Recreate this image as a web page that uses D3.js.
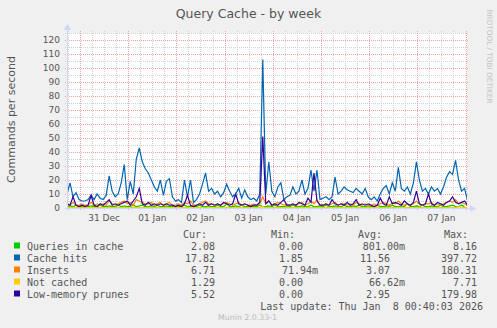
<!DOCTYPE html>
<html>
<head>
<meta charset="utf-8">
<script src="https://cdn.jsdelivr.net/npm/d3@7"></script>
<style>
  html, body { margin: 0; padding: 0; background: #F0F0F0; }
  svg { display: block; }
  text { font-family: "DejaVu Sans", sans-serif; fill: #555; }
  .mono { font-family: "DejaVu Sans Mono", monospace; white-space: pre; }
</style>
</head>
<body>
<svg id="chart"></svg>
<script>
// --- data (one sample every 1.5 h) ---
var startTime = Date.UTC(2025, 11, 30, 17, 32);
var stepHours = 1.5;

var queriesInCache = [1,1.5,1,2,1,1,0.5,1,1.5,1,1,2,1,1,1.5,1,1,2,1,1.5,1,1,2,1,1.5,2,1,1,1.5,1,2,1,1,1.5,1,1,0.5,1,1,2,1,1,1.5,1,2,1,1,1.5,1,1,2,1,1,3,1,1,1.5,1,2,1,1,1.5,1,1,2,1,1,1.5,1,2,1,1,1,1.5,1,2,1,1,1.5,1,1,2,1,1,1.5,1,2,1,1,1.5,1,1,2,1,1,1.5,1,2,1,1,1.5,1,1,2,1,1,1.5,1,2,1,1,1.5,1,3,1,1,1.5,1,2,1,1,1.5,1,1,2,1,1,1.5,2,1,1,2,1];
var cacheHits = [10,18,8,11,6,5,5,6,9,6,10,7,6,9,23,12,8,10,18,31,6,19,10,35,43,33,28,25,20,15,12,20,9,19,21,8,5,6,4,20,8,20,4,6,10,17,25,12,14,10,12,8,11,17,12,8,10,14,7,13,8,6,7,5,10,106,10,33,12,8,15,18,6,8,9,15,10,12,20,10,14,27,12,27,6,7,8,6,8,22,10,12,15,13,12,11,14,12,10,14,8,6,8,5,10,14,16,10,18,12,29,14,12,15,10,18,33,20,12,14,10,15,12,14,10,15,22,26,24,34,20,12,14,5];
var inserts = [3,2,4,2,2,3,2,2,4,2,3,2,3,2,5,3,2,3,4,5,3,4,2,6,5,4,3,3,4,2,3,4,2,3,4,2,2,3,2,4,3,5,2,2,3,4,5,3,3,2,3,2,3,4,3,2,3,4,2,3,2,2,3,2,3,8,3,5,2,3,4,3,2,3,2,3,2,3,4,2,3,5,3,6,2,2,3,2,3,4,2,3,3,2,3,2,4,3,2,3,2,2,3,2,3,4,3,2,4,3,5,3,2,3,2,3,5,3,2,3,3,4,2,3,2,3,4,5,4,6,3,4,3,2];
var notCached = [0.5,0.3,0.5,0.2,0.3,0.5,0.2,0.3,0.5,0.2,0.3,0.5,0.3,0.2,0.5,0.3,0.2,0.5,0.3,0.5,0.2,0.3,0.5,0.3,0.5,0.2,0.3,0.5,0.2,0.3,0.5,0.3,0.2,0.5,0.3,0.2,0.3,0.5,0.2,0.3,0.5,0.3,0.2,0.3,0.5,0.2,0.3,0.5,0.3,0.2,0.5,0.3,0.2,0.5,0.3,0.2,0.3,0.5,0.2,0.3,0.5,0.3,0.2,0.3,0.5,1,0.3,0.5,0.2,0.3,0.5,0.3,0.2,0.5,0.3,0.2,0.3,0.5,0.2,0.3,0.5,0.3,0.2,0.5,0.3,0.2,0.3,0.5,0.2,0.3,0.5,0.3,0.2,0.3,0.5,0.2,0.3,0.5,0.3,0.2,0.5,0.3,0.2,0.5,0.3,0.2,0.3,0.5,0.2,0.3,0.5,0.3,0.2,0.3,0.5,0.2,0.3,0.5,0.3,0.2,0.5,0.3,0.2,0.5,0.3,0.2,0.3,0.5,0.2,0.3,1,0.3,0.5,0.3];
var lowMemoryPrunes = [3,2,8,2,1,2,1,2,9,2,1,3,2,4,6,2,3,2,3,4,5,2,5,8,14,3,2,4,2,3,2,3,2,3,2,2,1,2,1,3,9,2,1,2,3,2,4,2,3,2,3,2,4,3,2,3,10,3,2,3,2,1,2,2,4,51,3,5,2,3,2,4,6,2,2,3,2,4,3,2,7,4,25,5,2,2,3,2,6,3,2,3,2,4,2,3,6,2,3,2,3,2,1,2,7,3,2,8,3,4,3,2,5,3,2,4,12,3,2,3,10,3,2,4,3,2,4,5,8,4,3,4,5,2];

var seriesNames = ["Queries in cache", "Cache hits", "Inserts", "Not cached", "Low-memory prunes"];
var seriesColors = ["#00CC00", "#0066B3", "#FF8000", "#FFCC00", "#330099"];
var curValues = ["2.08", "17.82", "6.71", "1.29", "5.52"];
var minValues = ["0.00", "1.85", "71.94m", "0.00", "0.00"];
var avgValues = ["801.00m", "11.56", "3.07", "66.62m", "2.95"];
var maxValues = ["8.16", "397.72", "180.31", "7.71", "179.98"];
var yTickValues = [0, 10, 20, 30, 40, 50, 60, 70, 80, 90, 100, 110, 120];

var width = 497, height = 328;
var plot = { left: 67, right: 467, top: 33, bottom: 208 };

var svg = d3.select("#chart").attr("width", width).attr("height", height);
svg.append("rect").attr("width", width).attr("height", height).attr("fill", "#F0F0F0");

var endTime = startTime + 199.2 * 3600e3;
var x = d3.scaleUtc().domain([startTime, endTime]).range([plot.left, plot.right]);
var y = d3.scaleLinear().domain([0, 125]).range([plot.bottom, plot.top]);

svg.append("rect")
	.attr("x", plot.left).attr("y", plot.top)
	.attr("width", plot.right - plot.left).attr("height", plot.bottom - plot.top)
	.attr("fill", "#fff");

// grid
var grid = svg.append("g").attr("shape-rendering", "crispEdges");
var minorY = d3.range(0, 126, 5);
grid.selectAll(".hgrid").data(minorY).enter().append("line")
	.attr("x1", plot.left - 2).attr("x2", plot.right + 2)
	.attr("y1", function(d) { return Math.round(y(d)) + 0.5; })
	.attr("y2", function(d) { return Math.round(y(d)) + 0.5; })
	.attr("stroke", function(d) { return d % 10 == 0 ? "#f4a3a3" : "#d2d2d2"; })
	.attr("stroke-dasharray", "1,1");

var minorX = d3.utcHour.every(6).range(new Date(startTime), new Date(endTime));
grid.selectAll(".vgrid").data(minorX).enter().append("line")
	.attr("y1", plot.top - 2).attr("y2", plot.bottom + 2)
	.attr("x1", function(d) { return Math.round(x(d)) + 0.5; })
	.attr("x2", function(d) { return Math.round(x(d)) + 0.5; })
	.attr("stroke", function(d) { return d.getUTCHours() == 0 ? "#f4a3a3" : "#d2d2d2"; })
	.attr("stroke-dasharray", "1,1");

// y labels
svg.selectAll(".ylab").data(yTickValues).enter().append("text")
	.attr("x", 60).attr("y", function(d) { return y(d); })
	.attr("dy", "0.35em")
	.attr("text-anchor", "end")
	.style("font-size", "9px")
	.text(function(d) { return d; });

// x labels at noon
var noons = d3.utcDay.range(new Date(startTime - 864e5), new Date(endTime))
	.map(function(d) { return new Date(+d + 12 * 3600e3); })
	.filter(function(d) { return +d > startTime && +d < endTime; });
svg.selectAll(".xlab").data(noons).enter().append("text")
	.attr("x", function(d) { return x(d); }).attr("y", 220.5)
	.attr("text-anchor", "middle")
	.style("font-size", "9px")
	.text(d3.utcFormat("%d %b"));

// series
var clip = svg.append("clipPath").attr("id", "plotclip").append("rect")
	.attr("x", plot.left).attr("y", plot.top - 5)
	.attr("width", plot.right - plot.left).attr("height", plot.bottom - plot.top + 6);

var allSeries = [queriesInCache, cacheHits, inserts, notCached, lowMemoryPrunes];
var line = d3.line()
	.x(function(d, i) { return x(startTime + i * stepHours * 3600e3); })
	.y(function(d) { return y(d); });

svg.append("g").attr("clip-path", "url(#plotclip)")
	.selectAll("path").data(allSeries).enter().append("path")
	.attr("d", line)
	.attr("fill", "none")
	.attr("stroke", function(d, i) { return seriesColors[i]; })
	.attr("stroke-width", 1.2);

// axes
var axisColor = "#CFD6F8";
svg.append("line").attr("x1", plot.left + 0.5).attr("x2", plot.left + 0.5)
	.attr("y1", plot.bottom + 2).attr("y2", plot.top - 4)
	.attr("stroke", axisColor).attr("shape-rendering", "crispEdges");
svg.append("line").attr("x1", plot.left - 2).attr("x2", plot.right + 4)
	.attr("y1", plot.bottom + 0.5).attr("y2", plot.bottom + 0.5)
	.attr("stroke", axisColor).attr("shape-rendering", "crispEdges");
svg.append("path")
	.attr("d", "M" + (plot.left - 3) + "," + (plot.top - 3) + " L" + (plot.left + 0.5) + "," + (plot.top - 9) + " L" + (plot.left + 4) + "," + (plot.top - 3) + " Z")
	.attr("fill", axisColor);
svg.append("path")
	.attr("d", "M" + (plot.right + 3) + "," + (plot.bottom - 3) + " L" + (plot.right + 9) + "," + (plot.bottom + 0.5) + " L" + (plot.right + 3) + "," + (plot.bottom + 4) + " Z")
	.attr("fill", axisColor);

// title and axis title
svg.append("text")
	.attr("x", 248.5).attr("y", 18)
	.attr("text-anchor", "middle")
	.style("font-size", "12.5px")
	.text("Query Cache - by week");

svg.append("text")
	.attr("transform", "translate(15," + ((plot.top + plot.bottom) / 2 - 1) + ") rotate(-90)")
	.attr("text-anchor", "middle")
	.style("font-size", "11px")
	.text("Commands per second");

svg.append("text")
	.attr("transform", "translate(487,56.5) rotate(90)")
	.attr("text-anchor", "middle")
	.style("font-size", "7.3px")
	.style("fill", "#c4c4c4")
	.text("RRDTOOL / TOBI OETIKER");

// legend
var legend = svg.append("g").attr("class", "legend");
var headers = [["Cur:", 207], ["Min:", 295], ["Avg:", 382], ["Max:", 468]];
legend.selectAll(".hdr").data(headers).enter().append("text")
	.attr("class", "mono")
	.attr("x", function(d) { return d[1]; }).attr("y", 237.5)
	.attr("text-anchor", "end")
	.style("font-size", "10px")
	.text(function(d) { return d[0]; });

var rows = legend.selectAll(".row").data(seriesNames).enter().append("g")
	.attr("transform", function(d, i) { return "translate(0," + (249.5 + i * 12) + ")"; });
rows.append("rect")
	.attr("x", 14).attr("y", -7).attr("width", 6).attr("height", 6)
	.attr("fill", function(d, i) { return seriesColors[i]; });
rows.append("text").attr("class", "mono")
	.attr("x", 27).style("font-size", "10px")
	.text(function(d) { return d; });

var columns = [[curValues, 215], [minValues, 303], [avgValues, 390], [maxValues, 477]];
columns.forEach(function(col) {
	rows.append("text").attr("class", "mono")
		.attr("x", function(d, i) { return /m$/.test(col[0][i]) ? col[1] + 15 : col[1]; })
		.attr("text-anchor", "end")
		.style("font-size", "10px")
		.text(function(d, i) { return col[0][i]; });
});

legend.append("text").attr("class", "mono")
	.attr("x", 483).attr("y", 309.5)
	.attr("text-anchor", "end")
	.style("font-size", "10px")
	.text("Last update: Thu Jan  8 00:40:03 2026");

svg.append("text")
	.attr("x", 247.5).attr("y", 320)
	.attr("text-anchor", "middle")
	.style("font-size", "7.8px")
	.style("fill", "#bbb")
	.text("Munin 2.0.33-1");
</script>
</body>
</html>
